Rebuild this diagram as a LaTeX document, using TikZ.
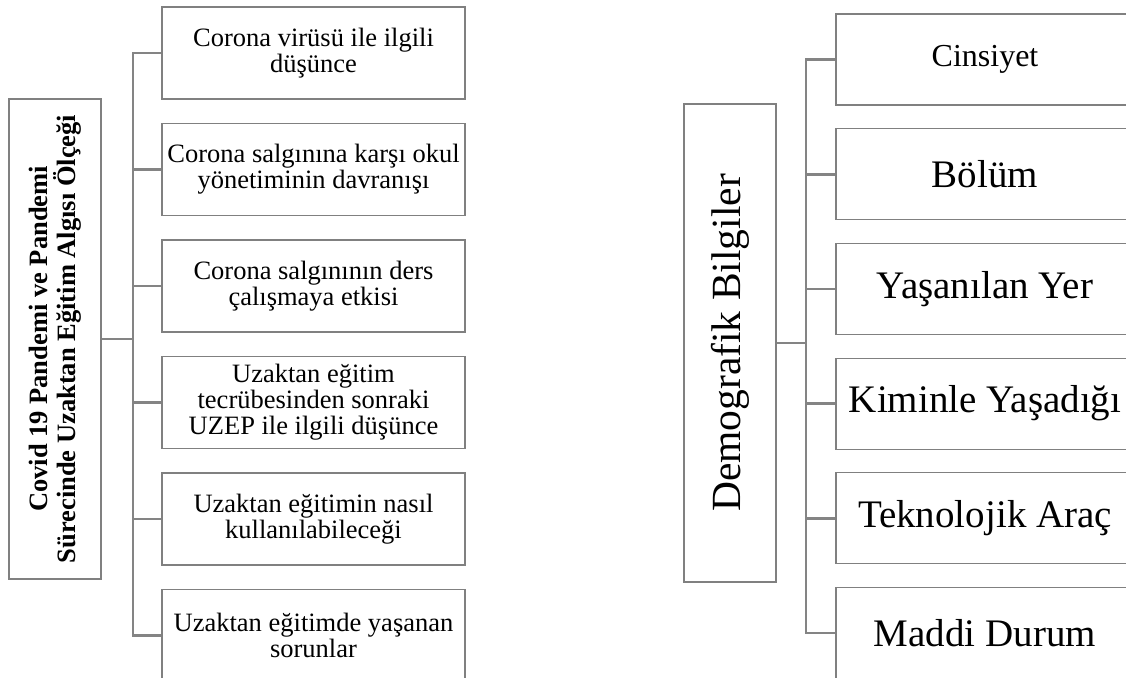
\documentclass[tikz,border=0pt]{standalone}
\usepackage{fontspec}
\setmainfont{Liberation Serif}
\usepackage{xcolor}
\definecolor{BoxGray}{RGB}{128,128,128}
\definecolor{LinkGray}{RGB}{132,132,132}
\usepackage{tikz}
\usetikzlibrary{positioning}

\begin{document}
\begin{tikzpicture}[x=1pt, y=-1pt, node distance=23.4pt]
\tikzstyle{rootbox}=[draw=BoxGray, line width=1.1pt, rotate=90, minimum height=92pt, inner sep=0pt, align=center]
\tikzstyle{itemL}=[draw=BoxGray, line width=1.1pt, minimum width=303pt, minimum height=92pt, inner sep=0pt, align=center, font=\fontsize{26.5}{26}\selectfont]
\tikzstyle{itemR}=[draw=BoxGray, line width=1.1pt, minimum width=298pt, minimum height=91pt, inner sep=0pt, align=center, font=\fontsize{39}{40}\selectfont]
\tikzstyle{link}=[draw=LinkGray, line width=2.6pt]

\useasboundingbox (0,0) rectangle (1126,677);
\clip (0,0) rectangle (1126,677);

% left tree
\node[rootbox, minimum width=480pt, font=\bfseries\fontsize{26.5}{28}\selectfont] (lroot) at (55,339)
  {Covid 19 Pandemi ve Pandemi\\Sürecinde Uzaktan Eğitim Algısı Ölçeği};

\node[itemL] (virus) at (313.5,53) {Corona virüsü ile ilgili\\düşünce};
\node[itemL, below=of virus] (okul) {Corona salgınına karşı okul\\yönetiminin davranışı};
\node[itemL, below=of okul] (ders) {Corona salgınının ders\\çalışmaya etkisi};
\node[itemL, below=of ders] (uzep) {Uzaktan eğitim\\tecrübesinden sonraki\\UZEP ile ilgili düşünce};
\node[itemL, below=of uzep] (nasil) {Uzaktan eğitimin nasıl\\kullanılabileceği};
\node[itemL, below=of nasil] (sorun) {Uzaktan eğitimde yaşanan\\sorunlar};

\coordinate (ltrunk) at (133,339);
\draw[link] (lroot.south) -- (ltrunk);
\draw[link] (virus.west) -| (ltrunk) |- (sorun.west);
\draw[link] (okul.west) -- (okul.west -| ltrunk);
\draw[link] (ders.west) -- (ders.west -| ltrunk);
\draw[link] (uzep.west) -- (uzep.west -| ltrunk);
\draw[link] (nasil.west) -- (nasil.west -| ltrunk);

% right tree
\node[rootbox, minimum width=478pt, font=\fontsize{41.5}{44}\selectfont] (rroot) at (730,343)
  {Demografik Bilgiler};

\node[itemR, font=\fontsize{32}{34}\selectfont] (cins) at (985,59.5) {Cinsiyet};
\node[itemR, below=22.6pt of cins] (bolum) {Bölüm};
\node[itemR, below=22.6pt of bolum] (yer) {Yaşanılan Yer};
\node[itemR, below=22.6pt of yer] (kimin) {Kiminle Yaşadığı};
\node[itemR, below=22.6pt of kimin] (arac) {Teknolojik Araç};
\node[itemR, below=22.6pt of arac] (madde) {Maddi Durum};

\coordinate (rtrunk) at (806,343);
\draw[link] (rroot.south) -- (rtrunk);
\draw[link] (cins.west) -| (rtrunk) |- (madde.west);
\draw[link] (bolum.west) -- (bolum.west -| rtrunk);
\draw[link] (yer.west) -- (yer.west -| rtrunk);
\draw[link] (kimin.west) -- (kimin.west -| rtrunk);
\draw[link] (arac.west) -- (arac.west -| rtrunk);
\end{tikzpicture}
\end{document}
